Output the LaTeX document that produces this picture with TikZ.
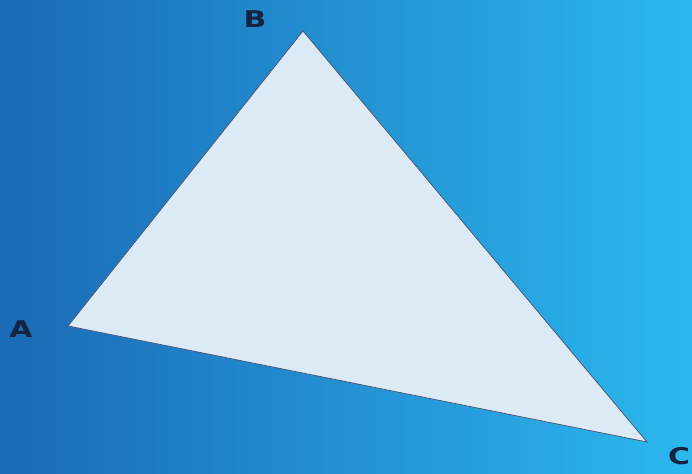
\documentclass[tikz,border=0pt]{standalone}
\usepackage{fontspec}
\setmainfont{Liberation Sans}
\newfontfamily\labelfont{DejaVu Sans}
\definecolor{bgdark}{HTML}{1A6AB5}
\definecolor{bglight}{HTML}{2CB8EF}
\definecolor{trifill}{HTML}{DCEAF5}
\definecolor{triedge}{HTML}{4A5A78}
\definecolor{labelcol}{HTML}{14233F}
\tikzset{
  vlabel/.style={text=labelcol, font=\labelfont\fontsize{23}{23}\selectfont\bfseries, inner sep=0pt, anchor=center, xscale=1.3},
  tri/.style={fill=trifill, draw=triedge, line width=0.8pt, line join=miter}
}
\begin{document}
\begin{tikzpicture}[x=1pt,y=-1pt]
  \useasboundingbox (0,0) rectangle (692,473);
  \shade[left color=bgdark, right color=bglight] (0,0) rectangle (692,473);
  \coordinate (A) at (68,326);
  \coordinate (B) at (303,31);
  \coordinate (C) at (647,442);
  \draw[tri] (A) -- (B) -- (C) -- cycle;
  \node[vlabel] (la) at (21,329) {A};
  \node[vlabel] (lb) at (255,19) {B};
  \node[vlabel] (lc) at (679,456) {C};
\end{tikzpicture}
\end{document}
